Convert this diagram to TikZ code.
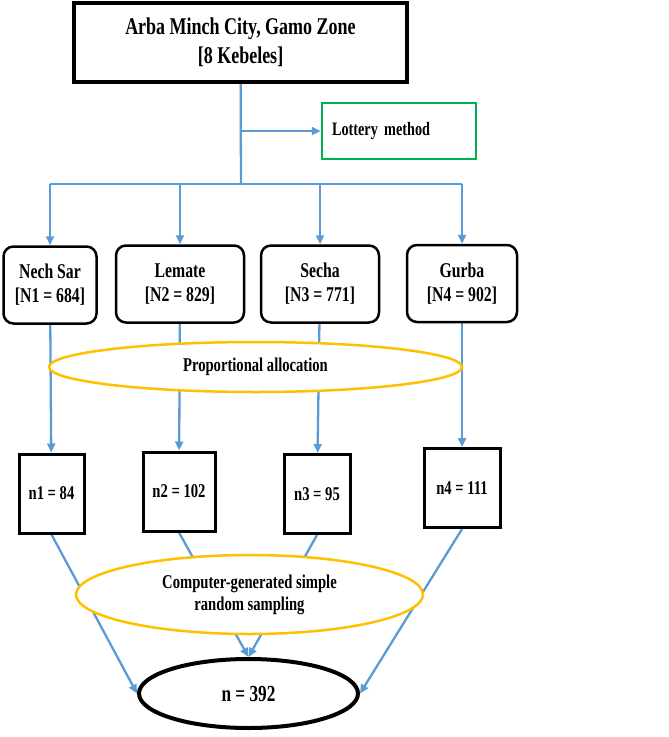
\documentclass[tikz,border=0pt]{standalone}
\usepackage{fontspec}
\setmainfont{Liberation Serif}[FakeStretch=0.75]
\usetikzlibrary{arrows.meta, positioning, shapes.geometric, backgrounds}
\definecolor{linkblue}{RGB}{91,155,213}
\definecolor{allocgold}{RGB}{255,192,0}
\definecolor{lotgreen}{RGB}{0,176,80}

\begin{document}
\begin{tikzpicture}[
  x=1pt, y=-1pt,
  link/.style={draw=linkblue, line width=2.3pt},
  linkarrow/.style={link, -{Triangle[length=9pt, width=8pt]}},
  topbox/.style={rectangle, draw=black, line width=4pt, fill=white, minimum width=333pt,
                 minimum height=79pt, align=center, font=\fontsize{24}{29}\selectfont\bfseries},
  lotbox/.style={rectangle, draw=lotgreen, line width=2.5pt, fill=white, text width=134pt,
                 minimum height=56pt, inner sep=10pt, align=left, font=\fontsize{19}{22}\selectfont\bfseries},
  kebbox/.style={rectangle, rounded corners=10pt, draw=black, line width=2.5pt, fill=white,
                 minimum height=77pt, inner sep=2pt, align=center, font=\fontsize{21}{24}\selectfont\bfseries},
  sampbox/.style={rectangle, draw=black, line width=3pt, fill=white, minimum height=79pt,
                  inner sep=2pt, font=\fontsize{19.5}{22}\selectfont\bfseries},
  stepoval/.style={ellipse, draw=allocgold, line width=2.5pt, fill=white, inner sep=0pt,
                   align=center, font=\fontsize{19.5}{22}\selectfont\bfseries},
  totaloval/.style={ellipse, draw=black, line width=4pt, fill=white, inner sep=0pt,
                    font=\fontsize{23}{26}\selectfont\bfseries}
]
\useasboundingbox (0,0) rectangle (669,737);

% Study area
\node[topbox] (city) at (240.5,42.5) {Arba Minch City, Gamo Zone\\{}[8 Kebeles]};
\node[lotbox] (lottery) at (399,131) {Lottery method};

% Selected kebeles
\node[kebbox, minimum width=93pt] (nechsar) at (50,285) {Nech Sar\\{}[N1 = 684]};
\node[kebbox, minimum width=128pt] (lemate) at (180,284) {Lemate\\{}[N2 = 829]};
\node[kebbox, minimum width=118pt] (secha) at (320,284) {Secha\\{}[N3 = 771]};
\node[kebbox, minimum width=110pt] (gurba) at (462,283.5) {Gurba\\{}[N4 = 902]};

% Allocation step
\node[stepoval, minimum width=413pt, minimum height=50pt] (propalloc) at (255.5,367) {Proportional allocation};

% Sample per kebele
\node[sampbox, minimum width=65pt] (n1) at (51.5,493.5) {n1 = 84};
\node[sampbox, minimum width=72pt] (n2) at (179,491.5) {n2 = 102};
\node[sampbox, minimum width=66pt] (n3) at (317,494) {n3 = 95};
\node[sampbox, minimum width=76pt] (n4) at (462,488) {n4 = 111};

% Sampling step and total
\node[stepoval, minimum width=347pt, minimum height=79pt] (srs) at (249.5,594.5)
  {Computer-generated simple\\random sampling};
\node[totaloval, minimum width=219pt, minimum height=69pt] (total) at (248.5,693.5) {n = 392};

% Junctions
\coordinate (split) at (241,131);
\coordinate (hub) at (241,184);
\coordinate (j1) at (50,184);
\coordinate (j2) at (180,184);
\coordinate (j3) at (320,184);
\coordinate (j4) at (462,184);

% Connectors
\begin{pgfonlayer}{background}
  \draw[link] (city) -- (hub);
  \draw[linkarrow] (split) -- (lottery);
  \draw[link] (j1) -- (j4);
  \foreach \j/\k in {j1/nechsar, j2/lemate, j3/secha, j4/gurba}
    \draw[linkarrow] (\j) -- (\k);
  \draw[linkarrow] (nechsar) -- (n1);
  \draw[linkarrow] (lemate) -- (n2);
  \draw[linkarrow] (secha) -- (n3);
  \draw[linkarrow] (gurba) -- (n4);
  \draw[linkarrow] (n1.south) -- (total.west);
  \draw[linkarrow] (n2.south) -- (total.north);
  \draw[linkarrow] (n3.south) -- (total.north);
  \draw[linkarrow] (n4.south) -- (total.east);
\end{pgfonlayer}

\end{tikzpicture}
\end{document}
